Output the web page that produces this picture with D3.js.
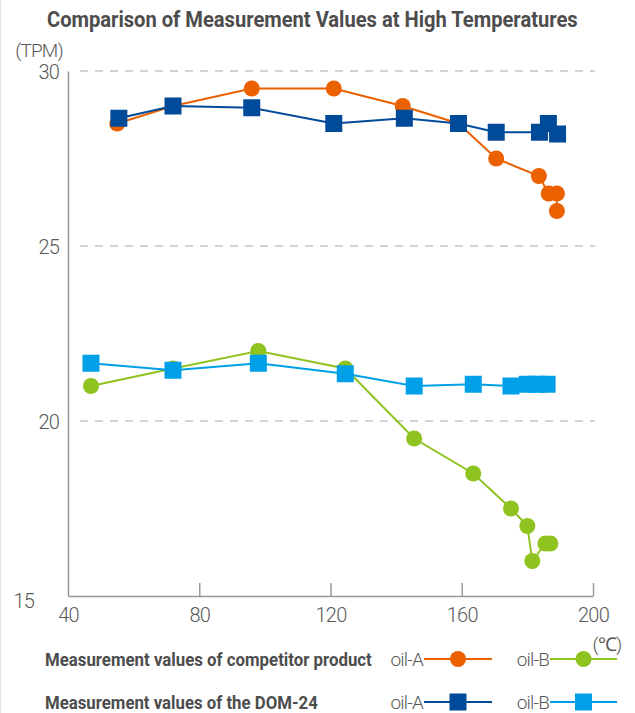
<!DOCTYPE html>
<html lang="en">
<head>
  <meta charset="UTF-8">
  <title>Comparison of Measurement Values at High Temperatures</title>
  <style>
    body { margin: 0; background: #fff; }
    .title, .legend-title { font-family: Roboto, sans-serif; font-weight: bold; fill: #4d4d4d; }
    .tick-label, .unit, .legend-name { font-family: Roboto, sans-serif; font-weight: 300; fill: #595959; letter-spacing: -0.8px; }
    .line { fill: none; stroke-width: 2px; }
  </style>
</head>
<body>
  <script src="https://cdn.jsdelivr.net/npm/d3@7"></script>
  <script>
    const width = 635, height = 713;

    // competitor product
    const compATemp = [55, 72, 96, 121, 142, 159, 170.5, 183.5, 186.5, 189, 189];
    const compAVal  = [28.5, 29, 29.5, 29.5, 29, 28.5, 27.5, 27, 26.5, 26.5, 26];
    const compBTemp = [47, 72, 98, 124.5, 145.5, 163.5, 175, 180, 181.5, 185.5, 187];
    const compBVal  = [21, 21.5, 22, 21.5, 19.5, 18.5, 17.5, 17, 16, 16.5, 16.5];
    // DOM-24
    const domATemp = [55.5, 72, 96, 121, 142.5, 159, 170.5, 183.7, 186.4, 189.2];
    const domAVal  = [28.65, 29, 28.95, 28.5, 28.65, 28.5, 28.25, 28.25, 28.5, 28.2];
    const domBTemp = [47, 72, 98, 124.5, 145.5, 163.5, 175, 180, 183, 186];
    const domBVal  = [21.65, 21.45, 21.65, 21.35, 21.0, 21.05, 21.0, 21.05, 21.05, 21.05];

    const xTicks = [40, 80, 120, 160, 200];
    const yTicks = [15, 20, 25, 30];
    const gridTicks = [20, 25, 30];

    const x = d3.scaleLinear().domain([40, 200]).range([68, 593]);
    const y = d3.scaleLinear().domain([15, 30]).range([596, 71]);

    const svg = d3.select('body').append('svg')
      .attr('width', width).attr('height', height);

    // squeeze a bold label horizontally to look like the condensed face of the original
    function condensed(sel, left, baseline, targetWidth) {
      const w = sel.node().getComputedTextLength();
      sel.attr('transform', `translate(${left},${baseline}) scale(${targetWidth / w},1)`);
    }

    // faint page edge
    svg.append('line').attr('x1', 0.5).attr('x2', 0.5).attr('y1', 0).attr('y2', height)
      .attr('stroke', '#e6e6e6');

    const title = svg.append('text').attr('class', 'title')
      .style('font-size', '22px')
      .text('Comparison of Measurement Values at High Temperatures');
    condensed(title, 47, 27, 531);

    // dashed grid
    svg.selectAll('line.grid').data(gridTicks).enter().append('line')
      .attr('class', 'grid')
      .attr('x1', 80).attr('x2', 595)
      .attr('y1', d => y(d)).attr('y2', d => y(d))
      .attr('stroke', '#aaa').attr('stroke-width', 1.2)
      .attr('stroke-dasharray', '8,7');

    // axes
    const xAxis = d3.axisBottom(x).tickValues(xTicks).tickSize(-13).tickSizeOuter(0).tickFormat(d3.format('d'));
    const gx = svg.append('g').attr('transform', `translate(0,${y(15)})`).call(xAxis);
    gx.select('.domain').attr('stroke', '#999').attr('stroke-width', 1.5);
    gx.selectAll('.tick line').attr('stroke', '#999').attr('stroke-width', 1.5)
      .filter(d => d === 40).remove();
    gx.selectAll('.tick text').attr('class', 'tick-label').attr('fill', null)
      .attr('y', 12).style('font-size', '20px');

    const yAxis = d3.axisLeft(y).tickValues(yTicks).tickSize(0).tickPadding(10);
    const gy = svg.append('g').attr('transform', `translate(${x(40)},0)`).call(yAxis);
    gy.select('.domain').attr('stroke', '#999').attr('stroke-width', 1.5);
    gy.selectAll('.tick text').attr('class', 'tick-label').attr('fill', null)
      .style('font-size', '20px')
      .attr('x', d => d === 15 ? -34 : -9)
      .attr('dy', d => d === 15 ? '0.55em' : '0.36em');

    svg.append('text').attr('class', 'unit').attr('x', 39).attr('y', 57)
      .attr('text-anchor', 'middle').style('font-size', '19px').text('(TPM)');
    svg.append('text').attr('class', 'unit').attr('x', 607).attr('y', 651)
      .attr('text-anchor', 'middle').style('font-size', '19px').text('(\u2103)');

    const series = [
      { temp: compATemp, val: compAVal, color: '#eb6100', shape: 'circle' },
      { temp: compBTemp, val: compBVal, color: '#8fc31f', shape: 'circle' },
      { temp: domATemp, val: domAVal, color: '#004a9a', shape: 'square' },
      { temp: domBTemp, val: domBVal, color: '#00a0e9', shape: 'square' }
    ];

    const line = d3.line().x(d => x(d[0])).y(d => y(d[1]));

    series.forEach(s => {
      const pts = s.temp.map((t, i) => [t, s.val[i]]);
      const g = svg.append('g');
      g.append('path').attr('class', 'line').attr('stroke', s.color).attr('d', line(pts));
      if (s.shape === 'circle') {
        g.selectAll('circle').data(pts).enter().append('circle')
          .attr('cx', d => x(d[0])).attr('cy', d => y(d[1])).attr('r', 8)
          .attr('fill', s.color);
      } else {
        g.selectAll('rect').data(pts).enter().append('rect')
          .attr('x', d => x(d[0]) - 8.5).attr('y', d => y(d[1]) - 8.5)
          .attr('width', 17).attr('height', 17).attr('fill', s.color);
      }
    });

    // legend
    const legendRows = ['Measurement values of competitor product', 'Measurement values of the DOM-24'];
    const legendWidths = [327, 273];
    const legendNames = ['oil-A', 'oil-B'];
    const rowY = [659, 702];
    const itemX = [[424, 492], [550, 617]];

    legendRows.forEach((label, r) => {
      const t = svg.append('text').attr('class', 'legend-title')
        .attr('dy', '0.36em').style('font-size', '19px').text(label);
      condensed(t, 45, rowY[r], legendWidths[r]);
      legendNames.forEach((name, c) => {
        const s = series[r * 2 + c];
        const [l1, l2] = itemX[c];
        svg.append('text').attr('class', 'legend-name')
          .attr('x', l1 - 1).attr('y', rowY[r]).attr('dy', '0.36em')
          .attr('text-anchor', 'end').style('font-size', '19px').text(name);
        svg.append('line').attr('x1', l1).attr('x2', l2)
          .attr('y1', rowY[r]).attr('y2', rowY[r])
          .attr('stroke', s.color).attr('stroke-width', 2);
        const mx = (l1 + l2) / 2;
        if (s.shape === 'circle') {
          svg.append('circle').attr('cx', mx).attr('cy', rowY[r]).attr('r', 8).attr('fill', s.color);
        } else {
          svg.append('rect').attr('x', mx - 8.5).attr('y', rowY[r] - 8.5)
            .attr('width', 17).attr('height', 17).attr('fill', s.color);
        }
      });
    });
  </script>
</body>
</html>
